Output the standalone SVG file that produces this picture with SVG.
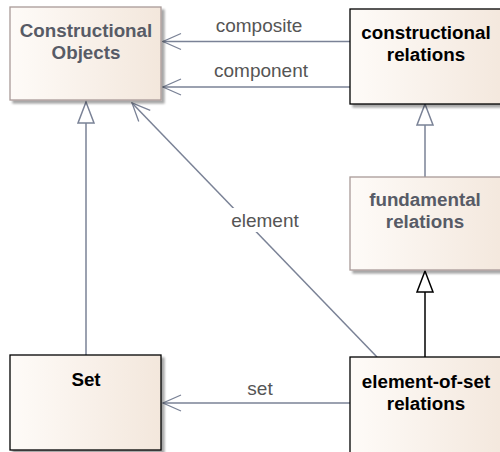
<svg xmlns="http://www.w3.org/2000/svg" width="500" height="452" viewBox="0 0 500 452">
  <defs>
    <linearGradient id="boxFill" x1="0" y1="0" x2="1" y2="0">
      <stop offset="0" stop-color="#fefbf8"/>
      <stop offset="1" stop-color="#f3e7dc"/>
    </linearGradient>
    <filter id="shadow" x="-10%" y="-10%" width="130%" height="130%">
      <feGaussianBlur in="SourceAlpha" stdDeviation="1"/>
      <feOffset dx="3" dy="3" result="b"/>
      <feComponentTransfer><feFuncA type="linear" slope="0.35"/></feComponentTransfer>
      <feMerge><feMergeNode/><feMergeNode in="SourceGraphic"/></feMerge>
    </filter>
    <!-- open arrowhead; tip sits on the line end -->
    <marker id="open" viewBox="0 0 20 20" refX="19" refY="10" markerWidth="20" markerHeight="20" markerUnits="userSpaceOnUse" orient="auto">
      <path d="M1,2 L19,10 L1,18" fill="none" stroke="#7a8296" stroke-width="1.3"/>
    </marker>
  </defs>
  <style>
    .box { fill: url(#boxFill); stroke: #000; stroke-width: 1.3; filter: url(#shadow); }
    .box.faded { stroke: #a99a98; }
    .title { font-family: "Liberation Sans", Arial, sans-serif; font-size: 18.8px; font-weight: bold; fill: #000; text-anchor: middle; }
    .title.faded { fill: #575b66; }
    .edge { fill: none; stroke: #7a8296; stroke-width: 1.5; }
    .label { font-family: "Liberation Sans", Arial, sans-serif; font-size: 19px; fill: #555; text-anchor: middle; }
    .tri { fill: #fff; stroke: #7a8296; stroke-width: 1.5; }
  </style>

  <g id="connectors">
    <!-- associations into Constructional Objects -->
    <line class="edge" x1="350" y1="41.5" x2="163" y2="41.5" marker-end="url(#open)"/>
    <text class="label" x="259" y="32">composite</text>
    <line class="edge" x1="350" y1="87" x2="163" y2="87" marker-end="url(#open)"/>
    <text class="label" x="261" y="77">component</text>
    <line class="edge" x1="377" y1="357" x2="132" y2="103" marker-end="url(#open)"/>
    <rect x="224" y="208" width="82" height="24" fill="#fff"/>
    <text class="label" x="265" y="227">element</text>
    <line class="edge" x1="350" y1="403" x2="163" y2="403" marker-end="url(#open)"/>
    <text class="label" x="260" y="395">set</text>

    <!-- generalizations -->
    <line class="edge" x1="86" y1="355" x2="86" y2="123"/>
    <path class="tri" d="M86,102 L78,123 L94,123 Z"/>
    <line class="edge" x1="425" y1="177" x2="425" y2="125"/>
    <path class="tri" d="M425,104 L417,125 L433,125 Z"/>
    <line x1="425" y1="357" x2="425" y2="292" stroke="#000" stroke-width="1.5"/>
    <path d="M425,271 L417,292 L433,292 Z" fill="#fff" stroke="#000" stroke-width="1.5"/>
  </g>

  <g id="constructional-objects">
    <rect class="box faded" x="10" y="7" width="151" height="93"/>
    <text class="title faded" x="86" y="37">Constructional</text>
    <text class="title faded" x="86" y="59">Objects</text>
  </g>

  <g id="constructional-relations">
    <rect class="box" x="350" y="9" width="160" height="95"/>
    <text class="title" x="426" y="39">constructional</text>
    <text class="title" x="426" y="61">relations</text>
  </g>

  <g id="fundamental-relations">
    <rect class="box faded" x="350" y="177" width="160" height="93"/>
    <text class="title faded" x="425" y="206">fundamental</text>
    <text class="title faded" x="425" y="228">relations</text>
  </g>

  <g id="set">
    <rect class="box" x="10" y="355" width="151" height="95"/>
    <text class="title" x="86" y="386">Set</text>
  </g>

  <g id="element-of-set-relations">
    <rect class="box" x="350" y="357" width="160" height="100"/>
    <text class="title" x="426" y="388">element-of-set</text>
    <text class="title" x="426" y="410">relations</text>
  </g>
</svg>
